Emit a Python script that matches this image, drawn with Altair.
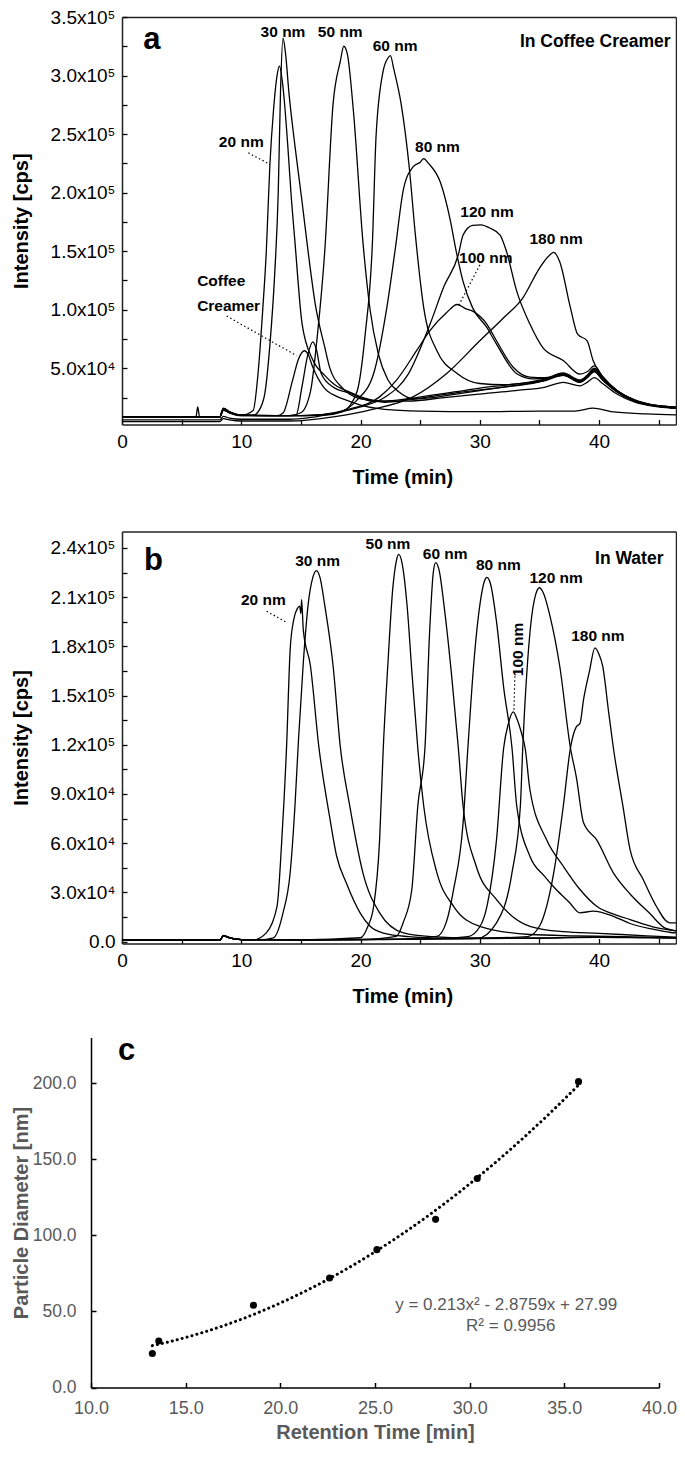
import altair as alt
import pandas as pd

FONT = "Liberation Sans"

# ---------------- Panel a: in coffee creamer (time [min], intensity [cps]) ----------------
a20_t = [0, 8.2, 8.5, 9.0, 10.0, 11.0, 11.4, 11.8, 12.1, 12.4, 12.7, 13.0, 13.2, 13.5, 13.9, 14.2, 14.5, 15.1, 16.0, 17.0, 17.7, 19.1, 20.5, 22.0, 24.0, 26.0, 28.0, 30.0, 32.0, 34.0, 35.5, 37.0, 38.4, 39.0, 39.6, 40.3, 41.5, 43.0, 45.0, 47.0]
a20_v = [8500, 8500, 15500, 12500, 10000, 14000, 45000, 100000, 150000, 224000, 270000, 300000, 308000, 290000, 240000, 195000, 158000, 88000, 57000, 44000, 37000, 29600, 24000, 21000, 23000, 26000, 29000, 31500, 34000, 36500, 39500, 44000, 38500, 42000, 47000, 40000, 30000, 22000, 17500, 16000]

a30_t = [0, 6.2, 6.35, 6.5, 8.2, 8.5, 9.0, 10.0, 11.0, 11.6, 12.0, 12.4, 12.8, 13.1, 13.3, 13.5, 13.7, 14.0, 14.5, 15.1, 15.6, 16.2, 17.0, 17.4, 18.5, 20.0, 22.0, 24.0, 26.0, 28.0, 30.0, 32.0, 34.0, 35.5, 37.0, 38.4, 39.0, 39.6, 40.3, 41.5, 43.0, 45.0, 47.0]
a30_v = [8500, 8500, 17000, 8500, 8500, 16000, 13000, 10000, 10000, 16000, 30000, 70000, 130000, 200000, 290000, 332000, 320000, 285000, 240000, 192000, 150000, 105000, 68000, 51000, 33000, 24000, 22000, 24000, 27000, 30000, 33000, 35500, 38000, 41000, 46000, 40000, 44000, 50000, 42000, 31000, 23000, 18000, 16500]

a50_t = [0, 8.2, 8.5, 9.0, 10.0, 12.0, 14.0, 15.0, 15.8, 16.4, 17.0, 17.7, 18.3, 18.6, 18.9, 19.4, 20.2, 20.8, 21.5, 22.3, 23.2, 24.5, 26.0, 28.0, 30.0, 32.0, 34.0, 35.5, 37.0, 38.4, 39.0, 39.6, 40.3, 41.5, 43.0, 45.0, 47.0]
a50_v = [8500, 8500, 15500, 12500, 10000, 9500, 9500, 12000, 30000, 80000, 150000, 276000, 312000, 325000, 318000, 270000, 158000, 100000, 62000, 40000, 30000, 24000, 25000, 28000, 31000, 34000, 37000, 40000, 45000, 39000, 43000, 49000, 41000, 30000, 22000, 17500, 16000]

a60_t = [0, 8.2, 8.5, 9.0, 10.0, 14.0, 17.0, 18.5, 19.7, 20.4, 21.0, 21.3, 21.9, 22.3, 22.5, 22.8, 23.4, 24.1, 24.6, 25.3, 26.4, 28.1, 30.0, 32.0, 34.0, 35.5, 37.0, 38.4, 39.0, 39.6, 40.3, 41.5, 43.0, 45.0, 47.0]
a60_v = [8500, 8500, 15500, 12500, 10000, 9500, 10000, 13000, 30000, 80000, 158000, 248000, 304000, 315000, 317000, 305000, 276000, 220000, 163700, 101600, 65000, 45600, 37000, 36000, 37500, 40000, 44500, 38500, 42500, 48000, 40500, 30000, 22000, 17500, 16000]

a80_t = [0, 8.2, 8.5, 9.0, 10.0, 15.0, 18.0, 19.7, 21.1, 22.2, 22.9, 23.6, 24.4, 25.0, 25.3, 25.7, 26.7, 27.5, 28.0, 28.6, 29.4, 30.6, 31.4, 33.1, 34.5, 36.0, 37.0, 38.4, 39.0, 39.6, 40.3, 41.5, 43.0, 45.0, 47.0]
a80_v = [8500, 8500, 15500, 12500, 10000, 9500, 12000, 22800, 45600, 101600, 151000, 203000, 222000, 226000, 229000, 225000, 208600, 177600, 151000, 124000, 101600, 84700, 70700, 45400, 41000, 42000, 45500, 39500, 43500, 50000, 42000, 31000, 22500, 18000, 16500]

a100_t = [0, 8.2, 8.5, 9.0, 10.0, 15.0, 19.0, 21.6, 23.0, 24.7, 25.8, 27.2, 28.1, 28.8, 29.4, 30.6, 31.4, 32.8, 34.2, 35.5, 37.0, 38.4, 39.0, 39.6, 40.3, 41.5, 43.0, 45.0, 47.0]
a100_v = [8500, 8500, 15500, 12500, 10000, 9500, 15000, 25600, 39700, 65000, 82000, 97400, 104500, 101000, 98800, 87600, 73500, 50900, 42500, 42000, 44000, 38000, 42000, 47500, 40000, 30000, 22000, 17500, 16000]

a120_t = [0, 8.2, 8.5, 9.0, 10.0, 14.0, 18.0, 20.0, 22.0, 24.0, 25.8, 27.0, 28.2, 28.6, 29.4, 30.1, 30.8, 31.7, 32.2, 33.1, 34.2, 35.3, 37.0, 38.4, 39.0, 39.6, 40.3, 41.5, 43.0, 45.0, 47.0]
a120_v = [6000, 6000, 9000, 7500, 6500, 6500, 12000, 17000, 25000, 45000, 87000, 120000, 147000, 163800, 172000, 172500, 170000, 163800, 151000, 115700, 87800, 67500, 56600, 45000, 47000, 52000, 43000, 31000, 22500, 18000, 16500]

a180_t = [0, 8.2, 8.5, 9.0, 10.0, 14.0, 18.0, 21.0, 24.4, 27.2, 30.0, 32.0, 33.6, 35.0, 35.7, 36.2, 36.7, 37.6, 38.2, 39.0, 39.5, 40.1, 41.0, 42.5, 44.0, 45.5, 47.0]
a180_v = [4500, 4500, 7000, 6000, 5000, 5000, 9000, 15000, 25600, 45400, 73500, 93200, 110000, 135400, 145000, 149000, 141000, 101600, 79100, 73500, 56600, 45400, 35000, 25000, 19500, 17000, 16000]

acr1_t = [0, 8.2, 8.5, 9.0, 10.0, 13.0, 13.5, 14.3, 14.8, 15.3, 15.6, 16.0, 16.9, 18.0, 18.8, 20.0, 22.0, 25.0, 30.0, 35.0, 38.0, 39.5, 41.0, 44.0, 47.0]
acr1_v = [8500, 8500, 14000, 12000, 9500, 9500, 11800, 39700, 58000, 65000, 62000, 50900, 34000, 26000, 22800, 18500, 15000, 13500, 13000, 13500, 13500, 16000, 13000, 11000, 10000]

acr2_t = [0, 8.2, 8.5, 9.0, 10.0, 14.0, 14.6, 15.1, 15.6, 16.0, 16.3, 16.7, 17.7, 19.1, 21.0, 24.0, 27.0, 30.0, 33.0, 35.5, 37.0, 38.4, 39.0, 39.6, 40.3, 41.5, 43.0, 45.0, 47.0]
acr2_v = [8500, 8500, 14500, 12000, 9500, 9500, 10100, 35000, 62500, 72600, 66000, 45600, 34000, 28700, 22000, 22000, 25000, 28000, 31000, 34000, 38000, 35000, 38000, 42000, 37000, 28000, 21000, 17000, 15500]

# ---------------- Panel b: in water ----------------
b20_t = [0, 8.2, 8.5, 9.0, 10.0, 11.0, 12.1, 13.0, 13.4, 13.8, 14.1, 14.4, 14.7, 14.9, 15.0, 15.06, 15.2, 15.8, 16.5, 17.4, 18.0, 18.8, 20.0, 20.8, 22.0, 24.0, 27.0, 30.0, 35.0, 40.0, 44.0, 47.0]
b20_v = [800, 800, 3800, 2500, 1200, 1000, 5300, 21500, 62200, 119000, 178000, 196300, 203000, 204500, 200000, 208500, 190000, 168000, 119000, 76400, 52000, 35800, 17000, 9300, 5000, 3000, 2000, 1800, 2000, 2500, 2200, 2000]

b30_t = [0, 8.2, 8.5, 9.0, 10.0, 11.5, 12.7, 13.5, 14.1, 14.5, 14.8, 15.2, 15.6, 16.0, 16.3, 16.6, 17.0, 17.7, 18.3, 19.1, 20.2, 21.6, 23.6, 26.0, 30.0, 35.0, 40.0, 44.0, 47.0]
b30_v = [800, 800, 3500, 2300, 1200, 1000, 2300, 17500, 41900, 82500, 123200, 170000, 205000, 222000, 226200, 222000, 205000, 168000, 119000, 82500, 41900, 17500, 5300, 3000, 2000, 2200, 3000, 2500, 2300]

b50_t = [0, 8.2, 8.5, 9.0, 10.0, 15.0, 20.0, 20.6, 21.1, 21.6, 21.9, 22.3, 22.7, 23.0, 23.2, 23.5, 23.9, 24.3, 24.8, 25.3, 26.4, 27.8, 30.0, 34.2, 38.0, 42.0, 47.0]
b50_v = [800, 800, 3500, 2300, 1200, 1000, 2300, 9000, 21500, 62000, 117000, 170000, 215000, 232000, 236000, 230000, 205000, 165000, 118000, 82500, 42000, 21500, 9300, 4300, 3500, 3000, 2000]

b60_t = [0, 8.2, 8.5, 9.0, 10.0, 15.0, 20.0, 23.0, 23.6, 24.3, 24.8, 25.4, 25.8, 26.1, 26.3, 26.6, 27.0, 27.6, 28.2, 28.6, 29.7, 31.4, 34.2, 37.0, 40.0, 44.0, 47.0]
b60_v = [800, 800, 3500, 2300, 1200, 1000, 1200, 3200, 12000, 31700, 82500, 118000, 190000, 225000, 231000, 226000, 205000, 165000, 118000, 82500, 45900, 25600, 9300, 6000, 5000, 3500, 2500]

b80_t = [0, 8.2, 8.5, 9.0, 10.0, 15.0, 22.0, 26.4, 27.2, 27.8, 28.6, 29.0, 29.5, 30.0, 30.4, 30.6, 30.9, 31.4, 32.0, 32.7, 33.1, 34.2, 35.4, 36.4, 37.5, 38.4, 39.5, 41.2, 42.6, 44.5, 46.0, 47.0]
b80_v = [800, 800, 3500, 2300, 1200, 1000, 1200, 3200, 12000, 31700, 72400, 118000, 170000, 205000, 220000, 222000, 218000, 195000, 155000, 118000, 82500, 52000, 40000, 31700, 24000, 17500, 18500, 15400, 11000, 7500, 5500, 5000]

b100_t = [0, 8.2, 8.5, 9.0, 10.0, 15.0, 25.0, 29.0, 30.0, 30.6, 31.4, 32.0, 32.4, 32.8, 33.1, 33.5, 33.8, 34.2, 35.6, 37.0, 38.4, 39.8, 41.5, 42.6, 44.5, 47.0]
b100_v = [800, 800, 3500, 2300, 1200, 1000, 1500, 3000, 9000, 21500, 62000, 118000, 133000, 140000, 136000, 127000, 118000, 92700, 62000, 45900, 31700, 21500, 16000, 13400, 9000, 6000]

b120_t = [0, 8.2, 8.5, 9.0, 10.0, 15.0, 25.0, 29.8, 31.4, 32.7, 33.4, 33.6, 34.2, 34.7, 35.0, 35.3, 35.9, 36.7, 37.6, 38.1, 38.7, 39.8, 41.2, 42.6, 44.2, 45.6, 47.0]
b120_v = [800, 800, 3500, 2300, 1200, 1000, 1500, 2000, 11400, 42000, 82500, 118000, 188000, 212000, 215700, 213000, 198000, 168000, 118000, 100000, 72400, 62000, 41900, 29000, 17500, 8000, 6000]

b180_t = [0, 8.2, 8.5, 9.0, 10.0, 15.0, 25.0, 30.0, 34.0, 35.0, 36.2, 37.0, 37.6, 38.1, 38.4, 38.7, 39.2, 39.65, 40.0, 40.3, 40.8, 41.2, 42.0, 42.6, 43.7, 44.8, 45.9, 46.3, 47.0]
b180_v = [800, 800, 3500, 2300, 1200, 1000, 1500, 2000, 3000, 9300, 42000, 82500, 118000, 131000, 133000, 147600, 165000, 179000, 175000, 168000, 140000, 118000, 82500, 56000, 37800, 21500, 11400, 11400, 11400]

# ---------------- Panel c: retention time vs particle diameter ----------------
c_time = [13.24, 13.58, 18.58, 22.6, 25.1, 28.2, 30.4, 35.75]
c_diam = [22.3, 30.6, 54.0, 72.0, 90.6, 110.5, 137.4, 201.0]

# ---------------- annotations (data coordinates) ----------------
a_lab_text = ["20 nm", "30 nm", "50 nm", "60 nm", "80 nm", "100 nm", "120 nm", "180 nm"]
a_lab_t = [10.0, 13.5, 18.3, 22.9, 26.45, 30.5, 30.6, 36.4]
a_lab_v = [243000, 337600, 337600, 325400, 239000, 144400, 183300, 160700]
a_cr_text = ["Coffee", "Creamer"]
a_cr_t = [6.3, 6.3]
a_cr_v = [124700, 103600]
a_ptr_t = [10.59, 8.78, 30.01]
a_ptr_t2 = [12.41, 14.64, 28.19]
a_ptr_v = [234000, 94600, 138300]
a_ptr_v2 = [224100, 60800, 103000]

b_lab_text = ["20 nm", "30 nm", "50 nm", "60 nm", "80 nm", "120 nm", "180 nm"]
b_lab_t = [11.85, 16.4, 22.3, 27.1, 31.55, 36.4, 39.9]
b_lab_v = [208100, 232300, 242500, 236400, 229300, 221800, 186200]
b_ptr_t = [12.13, 32.94]
b_ptr_t2 = [13.86, 32.86]
b_ptr_v = [201400, 161800]
b_ptr_v2 = [194300, 140400]


def curves(items):
    return pd.concat([pd.DataFrame({"series": n, "t": t, "v": v}) for n, t, v in items],
                     ignore_index=True)


def tdf(text, t, v):
    return pd.DataFrame({"label": text, "t": t, "v": v})


df_a = curves([("20 nm", a20_t, a20_v), ("30 nm", a30_t, a30_v), ("50 nm", a50_t, a50_v),
               ("60 nm", a60_t, a60_v), ("80 nm", a80_t, a80_v), ("100 nm", a100_t, a100_v),
               ("120 nm", a120_t, a120_v), ("180 nm", a180_t, a180_v),
               ("creamer 1", acr1_t, acr1_v), ("creamer 2", acr2_t, acr2_v)])
df_b = curves([("20 nm", b20_t, b20_v), ("30 nm", b30_t, b30_v), ("50 nm", b50_t, b50_v),
               ("60 nm", b60_t, b60_v), ("80 nm", b80_t, b80_v), ("100 nm", b100_t, b100_v),
               ("120 nm", b120_t, b120_v), ("180 nm", b180_t, b180_v)])
df_c = pd.DataFrame({"t": c_time, "v": c_diam})

# ---------------- layout: one view, three panels placed by scale ranges ----------------
VW = 585          # view width  (left edge = panel c's y axis)
VH = 1370.5       # view height (bottom = panel c's x axis)
AB_X = [31, 585]  # panels a and b, horizontal pixel range
A_Y = [407.5, 0]
B_Y = [926.5, 514.5]
C_X = [0, 568]
C_Y = [1370.5, 1020.5]

xs_ab = alt.Scale(domain=[0, 46.45], range=AB_X, nice=False, zero=False)
ys_a = alt.Scale(domain=[2000, 350000], range=A_Y, nice=False, zero=False)
ys_b = alt.Scale(domain=[-1200, 250000], range=B_Y, nice=False, zero=False)
xs_c = alt.Scale(domain=[10, 40], range=C_X, nice=False, zero=False)
ys_c = alt.Scale(domain=[0, 230], range=C_Y, nice=False, zero=False)

FRAME = "#222"
GRAY = "#595959"


def dom_axis(orient, offset, color=FRAME):
    return alt.Axis(orient=orient, offset=offset, domain=True, domainColor=color, domainWidth=1.5,
                    ticks=False, labels=False, grid=False, title="")


def sci_expr(step):
    return ("datum.value % " + str(step) + " == 0 ? (datum.value == 0 ? '0.0' : "
            "(datum.value >= 100000 ? format(datum.value / 100000, '.1f') + 'x10\u2075' : "
            "format(datum.value / 10000, '.1f') + 'x10\u2074')) : ''")


def y_tick_axis(values, step, title_y):
    return alt.Axis(orient="left", values=values, labelExpr=sci_expr(step), offset=-36, tickSize=5,
                    tickWidth=1.3, tickColor="black", domain=False, grid=False, labelPadding=7,
                    labelFontSize=19, labelFont=FONT, labelColor="black", labelFlush=False,
                    labelOverlap=False, title="Intensity [cps]", titleFont=FONT, titleFontSize=20,
                    titleFontWeight="bold", titleColor="black", titleAngle=270, titleAlign="center",
                    titleBaseline="top", titleX=-116, titleY=title_y)


def x_tick_axis(offset):
    return alt.Axis(orient="bottom", values=list(range(0, 46, 5)),
                    labelExpr="datum.value % 10 == 0 ? datum.label : ''", offset=offset, tickSize=5,
                    tickWidth=1.3, tickColor="black", domain=False, grid=False, labelPadding=8,
                    labelFontSize=19, labelFont=FONT, labelColor="black", labelFlush=False,
                    labelOverlap=False, title="Time (min)", titleFont=FONT, titleFontSize=20,
                    titleFontWeight="bold", titleColor="black", titleBaseline="middle",
                    titleX=AB_X[0] + 23.5 * (AB_X[1] - AB_X[0]) / 46.45, titleY=58)


def enc(xs, ys, xaxis=None, yaxis=None):
    return dict(x=alt.X("t:Q", scale=xs, axis=xaxis), y=alt.Y("v:Q", scale=ys, axis=yaxis))


def chrom_panel(df, ys, y_axis, x_axis, x_dom_off, top_off, labels, ptrs, extras):
    layers = [
        alt.Chart(df).mark_line(color="black", strokeWidth=1.3, interpolate="monotone", clip=True).encode(
            detail="series:N", **enc(xs_ab, ys, x_axis, y_axis)),
        alt.Chart(labels).mark_point(opacity=0).encode(
            **enc(xs_ab, ys, dom_axis("bottom", x_dom_off), dom_axis("left", -31))),
        alt.Chart(labels).mark_point(opacity=0).encode(
            **enc(xs_ab, ys, dom_axis("top", top_off), dom_axis("right", 0))),
        alt.Chart(ptrs).mark_rule(color="black", strokeWidth=1.2, strokeDash=[1.5, 2.5]).encode(
            x2="t2:Q", y2="v2:Q", **enc(xs_ab, ys)),
        alt.Chart(labels).mark_text(font=FONT, fontSize=15.5, fontWeight="bold", color="black",
                                    align="center", baseline="middle").encode(
            text="label:N", **enc(xs_ab, ys)),
    ]
    for d, kw in extras:
        layers.append(alt.Chart(d).mark_text(font=FONT, color="black", **kw).encode(
            text="label:N", **enc(xs_ab, ys)))
    return layers


ptr_a = pd.DataFrame({"t": a_ptr_t, "t2": a_ptr_t2, "v": a_ptr_v, "v2": a_ptr_v2})
ptr_b = pd.DataFrame({"t": b_ptr_t, "t2": b_ptr_t2, "v": b_ptr_v, "v2": b_ptr_v2})

layers_a = chrom_panel(
    df_a, ys_a, y_tick_axis(list(range(25000, 350001, 25000)), 50000, (A_Y[0] + A_Y[1]) / 2),
    x_tick_axis(A_Y[0] - 5 - VH), A_Y[0] - VH, -A_Y[1],
    tdf(a_lab_text, a_lab_t, a_lab_v), ptr_a,
    [(tdf(a_cr_text, a_cr_t, a_cr_v), dict(fontSize=15.5, fontWeight="bold", align="left", baseline="middle")),
     (tdf(["In Coffee Creamer"], [46.0], [328300]), dict(fontSize=17.5, fontWeight="bold", align="right", baseline="middle")),
     (tdf(["a"], [2.5], [322600]), dict(fontSize=31, fontWeight="bold", align="center", baseline="alphabetic"))])

layers_b = chrom_panel(
    df_b, ys_b, y_tick_axis(list(range(0, 240001, 15000)), 30000, (B_Y[0] + B_Y[1]) / 2),
    x_tick_axis(B_Y[0] - 5 - VH), B_Y[0] - VH, -B_Y[1],
    tdf(b_lab_text, b_lab_t, b_lab_v), ptr_b,
    [(tdf(["100 nm"], [33.2], [178100]), dict(fontSize=15.5, fontWeight="bold", align="center", baseline="middle", angle=270)),
     (tdf(["In Water"], [45.4], [233400]), dict(fontSize=17.5, fontWeight="bold", align="right", baseline="middle")),
     (tdf(["b"], [2.63], [226800]), dict(fontSize=31, fontWeight="bold", align="center", baseline="alphabetic"))])

# ---------------- panel c ----------------
x_ticks_c = alt.Axis(orient="bottom", values=[10, 15, 20, 25, 30, 35, 40], format=".1f", offset=-5,
                     tickSize=5, tickWidth=1.5, tickColor="black", domain=False, grid=False,
                     labelPadding=12, labelFontSize=18, labelFont=FONT, labelColor=GRAY, labelFlush=False,
                     labelOverlap=False, title="Retention Time [min]", titleFont=FONT, titleFontSize=20,
                     titleFontWeight="bold", titleColor=GRAY, titleBaseline="middle",
                     titleX=(C_X[0] + C_X[1]) / 2, titleY=50)
y_ticks_c = alt.Axis(orient="left", values=[0, 50, 100, 150, 200], format=".1f", offset=-5,
                     tickSize=5, tickWidth=1.5, tickColor="black", domain=False, grid=False,
                     labelPadding=15, labelFontSize=17.5, labelFont=FONT, labelColor=GRAY, labelFlush=False,
                     labelOverlap=False, title="Particle Diameter [nm]", titleFont=FONT, titleFontSize=20,
                     titleFontWeight="bold", titleColor=GRAY, titleAngle=270, titleAlign="center",
                     titleBaseline="top", titleX=-85, titleY=(C_Y[0] + C_Y[1]) / 2)

c_eq = tdf(["y = 0.213x\u00b2 - 2.8759x + 27.99", "R\u00b2 = 0.9956"], [31.93, 32.17], [54.2, 40.6])

layers_c = [
    alt.Chart(df_c).mark_point(opacity=0).encode(
        **enc(xs_c, ys_c, dom_axis("bottom", 0, "black"), dom_axis("left", 0, "black"))),
    alt.Chart(df_c).transform_regression("t", "v", method="poly", order=2).mark_line(
        color="black", strokeWidth=3, strokeDash=[0.1, 5], strokeCap="round").encode(**enc(xs_c, ys_c)),
    alt.Chart(df_c).mark_circle(size=50, color="black", opacity=1).encode(
        **enc(xs_c, ys_c, x_ticks_c, y_ticks_c)),
    alt.Chart(c_eq).mark_text(font=FONT, fontSize=17, color=GRAY, align="center", baseline="middle").encode(
        text="label:N", **enc(xs_c, ys_c)),
    alt.Chart(tdf(["c"], [11.88], [215.5])).mark_text(
        font=FONT, fontSize=31, fontWeight="bold", color="black", align="center", baseline="alphabetic").encode(
        text="label:N", **enc(xs_c, ys_c)),
]

chart = alt.layer(*(layers_a + layers_b + layers_c)).resolve_scale(
    x="independent", y="independent").resolve_axis(
    x="independent", y="independent").properties(
    width=VW, height=VH, background="white",
    padding={"left": 3, "top": 0, "right": 0, "bottom": 0},
    view=alt.ViewBackground(stroke="transparent"))

chart.save("out.html", embed_options={"renderer": "svg", "actions": False})
